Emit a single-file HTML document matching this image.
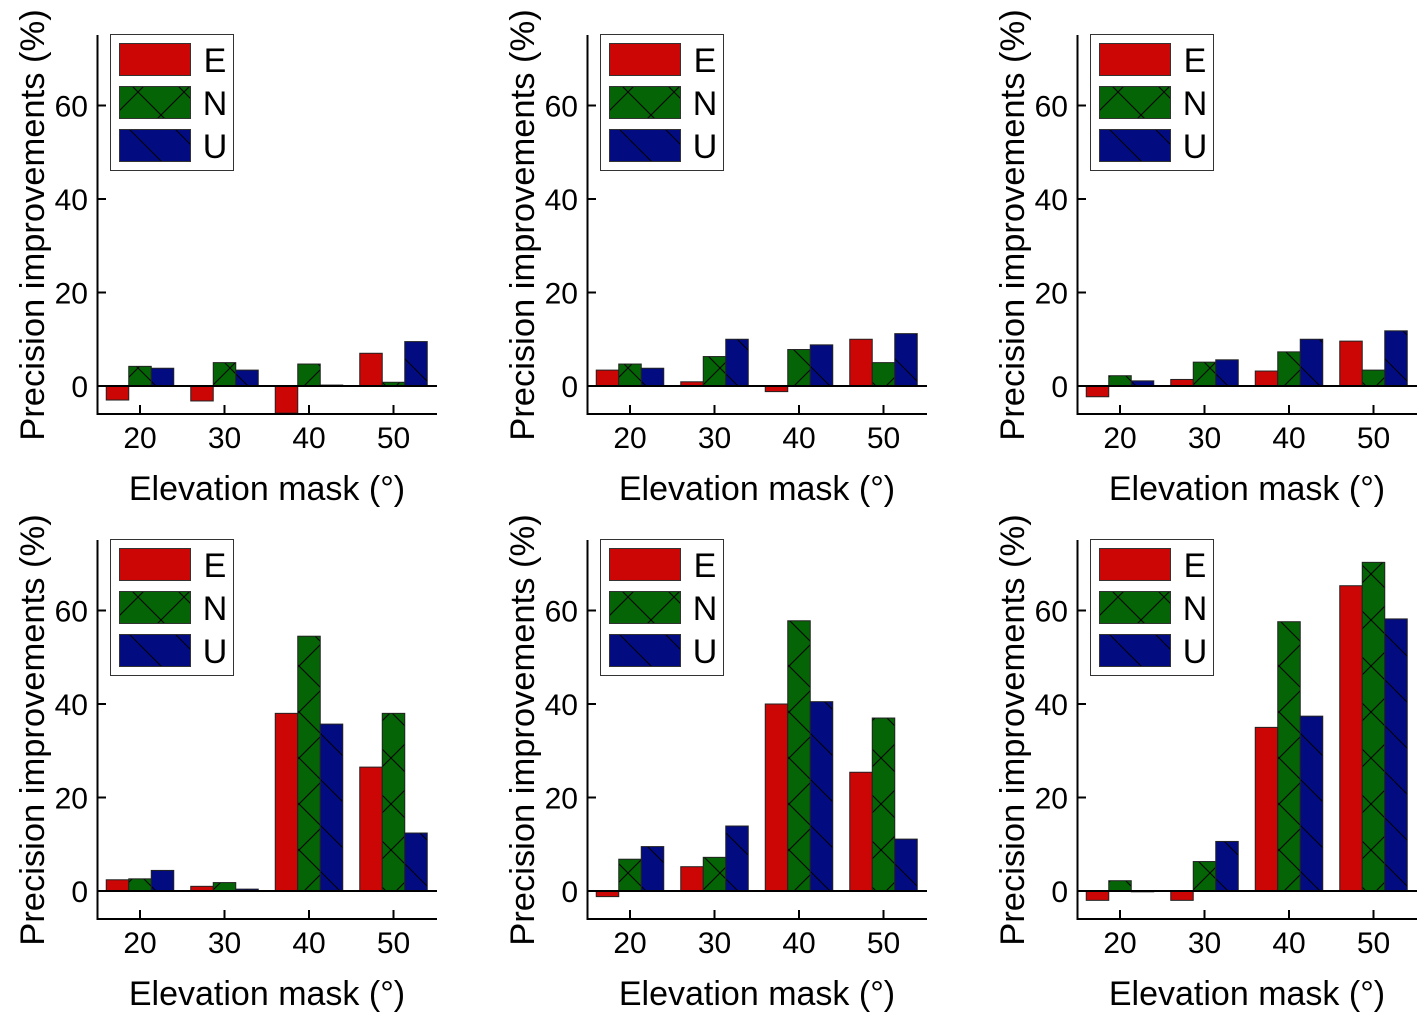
<!DOCTYPE html>
<html><head><meta charset="utf-8"><style>
html,body{margin:0;padding:0;background:#fff;}
svg{display:block;font-family:"Liberation Sans",Arial,sans-serif;}
</style></head><body>
<svg id="fig" width="1425" height="1021" viewBox="0 0 1425 1021" xmlns="http://www.w3.org/2000/svg">
<defs>
<pattern id="patN" patternUnits="userSpaceOnUse" width="46" height="46">
<rect width="46" height="46" fill="#056405"/>
<path d="M0,0 L46,46 M46,0 L0,46 M-23,23 L0,46 M23,-23 L46,0" stroke="#000" stroke-width="1" fill="none"/>
</pattern>
<pattern id="patU" patternUnits="userSpaceOnUse" width="46" height="46">
<rect width="46" height="46" fill="#030b80"/>
<path d="M0,0 L46,46 M-23,23 L0,46 M23,-23 L46,0" stroke="#000" stroke-width="1" fill="none"/>
</pattern>
</defs>
</svg>
<script>
const categories = [20, 30, 40, 50];
const yTicks = [0, 20, 40, 60];
const seriesNames = ["E", "N", "U"];
const p1E = [-3, -3.2, -5.8, 7];
const p1N = [4.2, 5, 4.7, 0.8];
const p1U = [3.8, 3.4, 0.2, 9.5];
const p2E = [3.4, 0.9, -1.2, 10];
const p2N = [4.7, 6.3, 7.8, 5];
const p2U = [3.8, 10, 8.8, 11.2];
const p3E = [-2.3, 1.4, 3.2, 9.6];
const p3N = [2.2, 5.1, 7.3, 3.4];
const p3U = [1.1, 5.6, 10, 11.8];
const p4E = [2.4, 1, 38, 26.5];
const p4N = [2.6, 1.8, 54.5, 38];
const p4U = [4.4, 0.4, 35.7, 12.4];
const p5E = [-1.2, 5.2, 40, 25.4];
const p5N = [6.8, 7.2, 57.8, 37];
const p5U = [9.5, 13.9, 40.5, 11.1];
const p6E = [-2, -2, 35, 65.3];
const p6N = [2.2, 6.3, 57.6, 70.3];
const p6U = [0, 10.6, 37.4, 58.2];
const panels = [[p1E,p1N,p1U],[p2E,p2N,p2U],[p3E,p3N,p3U],[p4E,p4N,p4U],[p5E,p5N,p5U],[p6E,p6N,p6U]];

const NS = "http://www.w3.org/2000/svg";
const svg = document.getElementById('fig');
const fills = ["#cc0505", "url(#patN)", "url(#patU)"];
const legFills = ["#cc0505", "url(#patN)", "url(#patU)"];
function mk(tag, attrs, parent){ const e=document.createElementNS(NS,tag); for(const k in attrs) e.setAttribute(k,attrs[k]); (parent||svg).appendChild(e); return e; }

panels.forEach((data, pi) => {
  const ox = (pi%3)*490, oy = Math.floor(pi/3)*505;
  const g = mk('g', {transform:`translate(${ox},${oy})`});
  
  
  const xS = v => 140 + (v-20)*8.45;
  const yS = v => 386 - v*4.675;
  const bw = 22.5;
  data.forEach((ser, si) => {
    ser.forEach((v, ci) => {
      const x = xS(categories[ci]) - 1.5*bw + si*bw;
      const y0 = yS(0), y1 = yS(v);
      const r = mk('rect', {x:x, y:Math.min(y0,y1), width:bw, height:Math.max(Math.abs(y1-y0),0.8), fill:fills[si], stroke:'#222', 'stroke-width':1}, g);
      
      
    });
  });
  const ya = mk('line', {x1:97.5, y1:35, x2:97.5, y2:414, stroke:'#000', 'stroke-width':2}, g);
  
  
  const xa = mk('line', {x1:96.5, y1:414, x2:437, y2:414, stroke:'#000', 'stroke-width':2}, g);
  
  
  const zl = mk('line', {x1:97.5, y1:yS(0), x2:437, y2:yS(0), stroke:'#000', 'stroke-width':2}, g);
  
  
  yTicks.forEach(t => {
    mk('line', {x1:97.5, y1:yS(t), x2:106, y2:yS(t), stroke:'#000', 'stroke-width':2}, g);
    const tx = mk('text', {x:88, y:yS(t)+11, 'text-anchor':'end', 'font-size':30}, g);
    tx.textContent = t;
    
    
  });
  categories.forEach(c => {
    mk('line', {x1:xS(c), y1:414, x2:xS(c), y2:405, stroke:'#000', 'stroke-width':2}, g);
    const tx = mk('text', {x:xS(c), y:448, 'text-anchor':'middle', 'font-size':30}, g);
    tx.textContent = c;
    
    
  });
  const xt = mk('text', {x:267, y:500, 'text-anchor':'middle', 'font-size':34}, g);
  xt.textContent = 'Elevation mask (°)';
  
  
  const yt = mk('text', {x:0, y:0, 'text-anchor':'middle', 'font-size':34.5, transform:'translate(44,225) rotate(-90)'}, g);
  yt.textContent = 'Precision improvements (%)';
  
  
  const lg = mk('g', {}, g);
  
  
  mk('rect', {x:110.5, y:34.5, width:123, height:136, fill:'#fff', stroke:'#333', 'stroke-width':1}, lg);
  seriesNames.forEach((n, i) => {
    const sw = mk('rect', {x:119.5, y:43.5+i*43, width:71, height:32, fill:legFills[i], stroke:'#333', 'stroke-width':1}, lg);
    
    
    const lt = mk('text', {x:215, y:72+i*43, 'text-anchor':'middle', 'font-size':34}, lg);
    lt.textContent = n;
    
    
  });
});
</script>
</body></html>
